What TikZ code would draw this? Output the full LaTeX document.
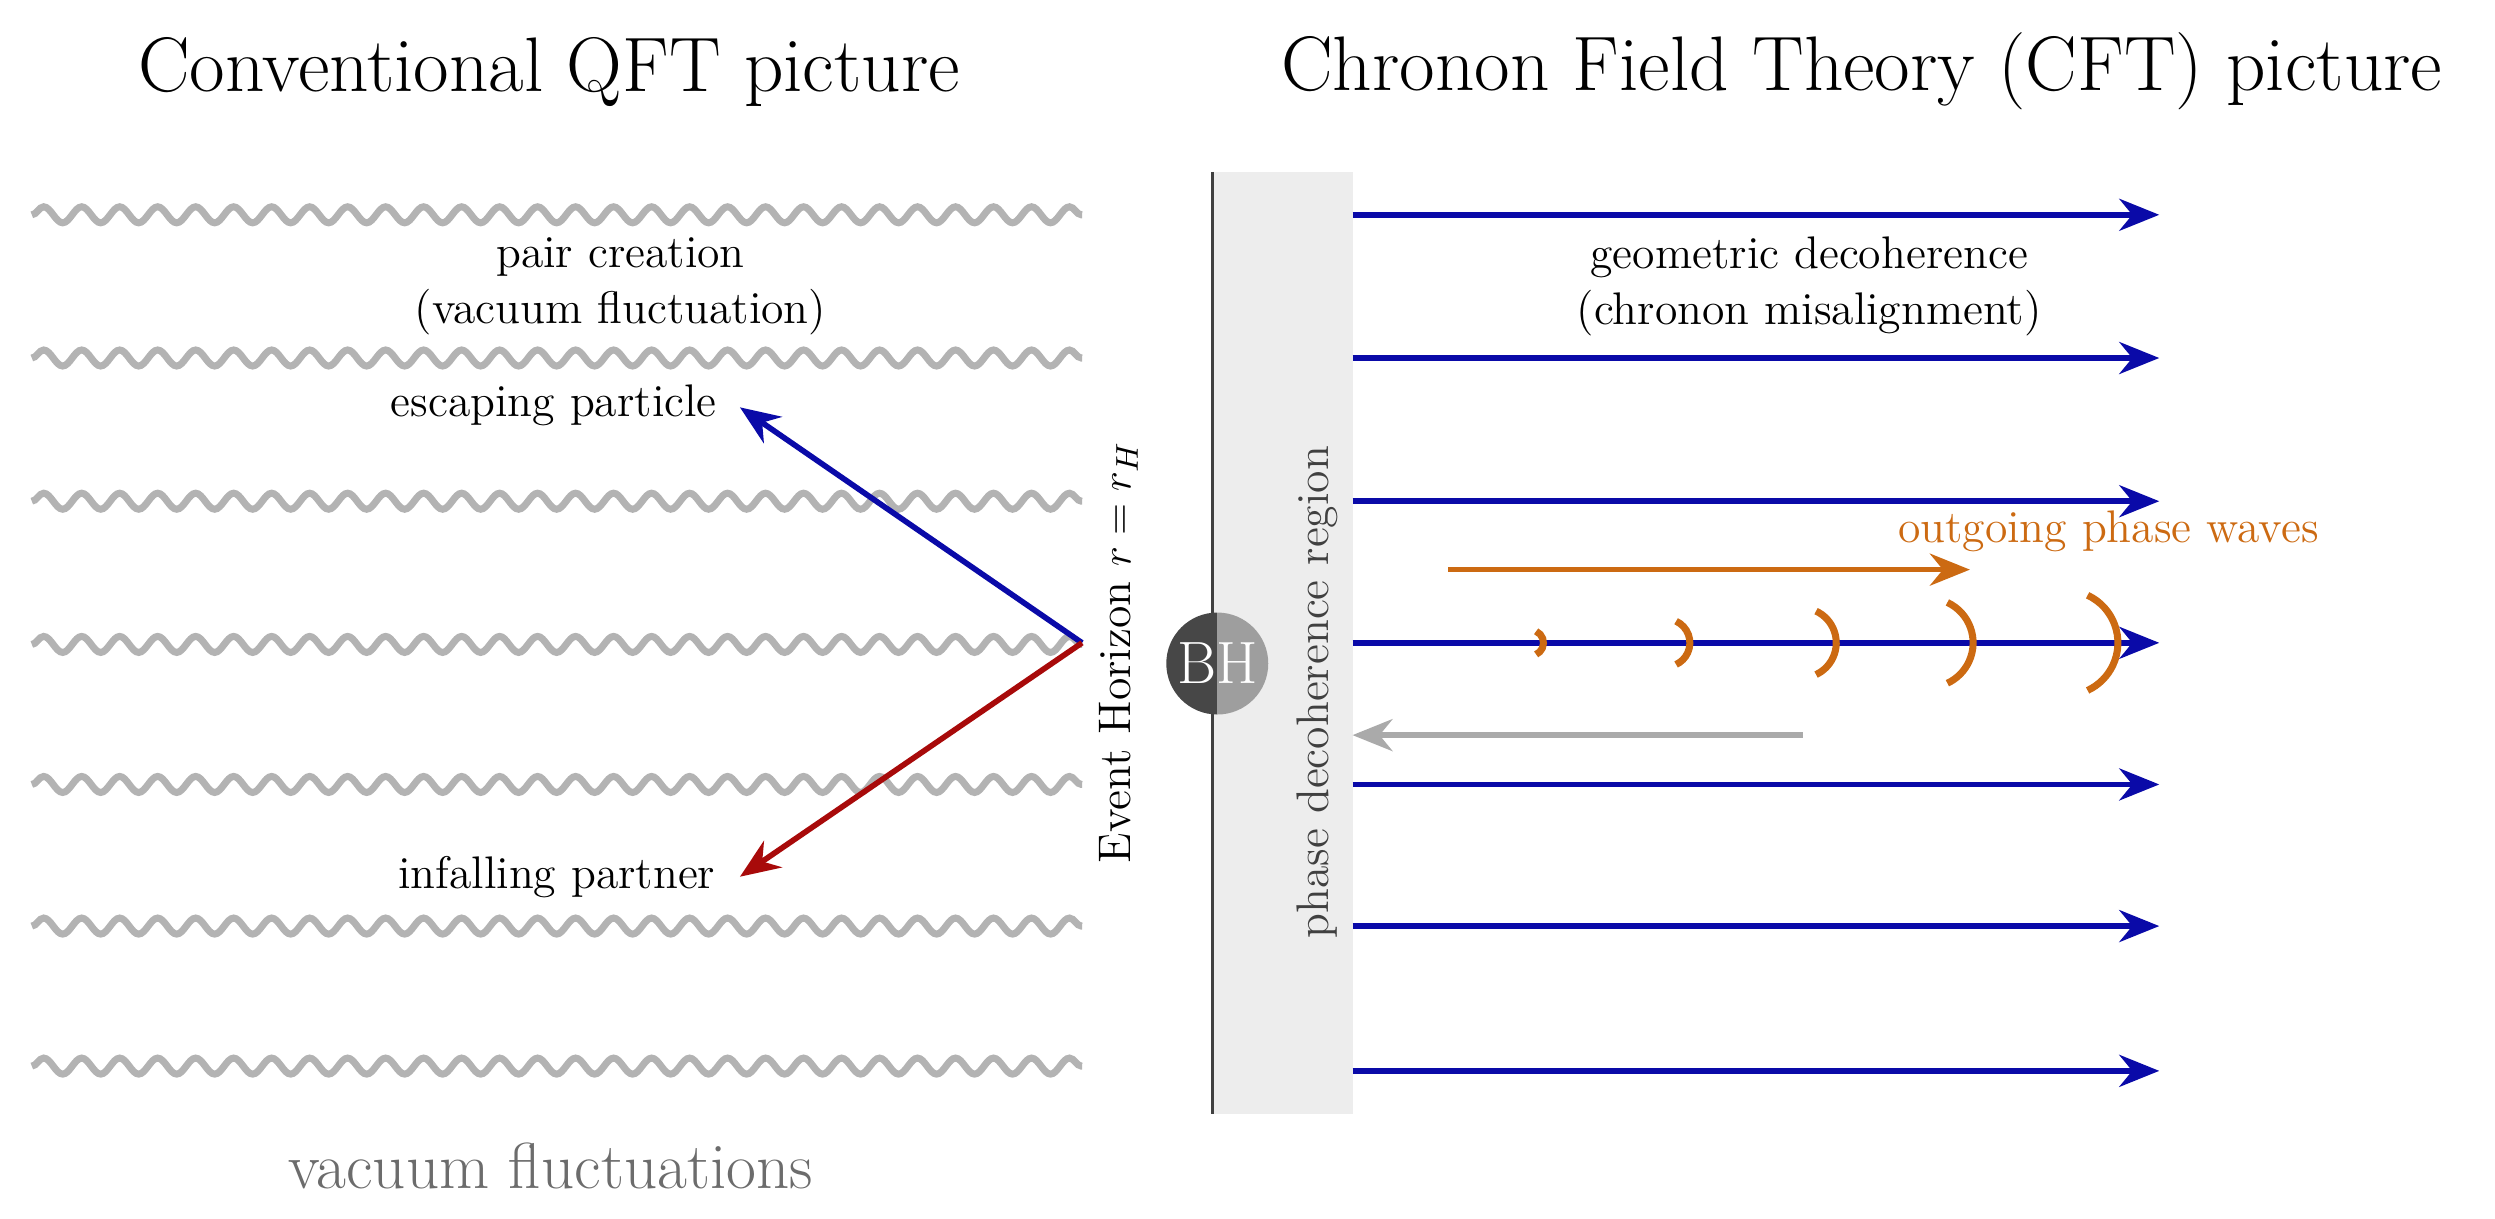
\documentclass[tikz,border=0pt]{standalone}
\usetikzlibrary{decorations.pathmorphing,arrows.meta}
\definecolor{wv}{HTML}{B3B3B3}
\definecolor{bl}{HTML}{0A0AA8}
\definecolor{rd}{HTML}{A80A0A}
\definecolor{og}{HTML}{CC6A12}
\definecolor{ga}{HTML}{AAAAAA}
\tikzset{
 wave/.style={wv,line width=2pt,decorate,decoration={snake,amplitude=0.08cm,segment length=0.38cm}},
 arrtip/.style={-{Stealth[length=0.4cm,width=0.32cm]}},
 bluearr/.style={bl,line width=1.6pt,arrtip},
 lbl/.style={font=\fontsize{13}{16}\selectfont,align=center},
 ttl/.style={font=\fontsize{22}{26}\selectfont}
}
\begin{document}
\begin{tikzpicture}[x=0.015912cm,y=-0.015912cm]
\useasboundingbox (0,0) rectangle (1568,766);
\node[ttl] (t1) at (345,45) {Conventional QFT picture};
\node[ttl] (t2) at (1170,45) {Chronon Field Theory (CFT) picture};
\foreach \yy in {135,225,315,405,493,582,670}
  \draw[wave] (20,\yy) -- (680,\yy);
\node[lbl] (pc) at (390,180) {pair creation\\(vacuum fluctuation)};
\coordinate (o) at (680,404);
\node[lbl] (esc) at (348,255) {escaping particle};
\node[lbl] (inf) at (350,551) {infalling partner};
\coordinate (ee) at (465,256);
\coordinate (ie) at (465,551);
\draw[bluearr] (o) -- (ee);
\draw[rd,line width=1.6pt,arrtip] (o) -- (ie);
\node[font=\fontsize{18.5}{22}\selectfont,gray!85!black] (vf) at (346,733) {vacuum fluctuations};
\node[lbl,rotate=90] (eh) at (703,410) {Event Horizon $r=r_H$};
\fill[black!7] (762,108) rectangle (850,700);
\draw[black!75,line width=1pt] (762,108) -- (762,700);
\node[lbl,rotate=90,black!75] (pd) at (828,435) {phase decoherence region};
\foreach \yy in {135,225,315,404,493,582,673}
  \draw[bluearr] (850,\yy) -- (1357,\yy);
\node[lbl] (gd) at (1137,180) {geometric decoherence\\(chronon misalignment)};
\draw[og,line width=1.6pt,arrtip] (910,358) -- (1238,358);
\node[lbl,og] (ow) at (1325,334) {outgoing phase waves};
\foreach \xx/\r in {962/8,1047/15,1132/22,1212/28,1298/33}
  \draw[og,line width=2pt] (\xx,404) ++(-65:\r) arc(-65:65:\r);
\draw[ga,line width=1.6pt,arrtip] (1133,462) -- (850,462);
\begin{scope}
\clip (765,417) circle[radius=0.51cm];
\fill[black!72] (730,380) rectangle (765,455);
\fill[black!38] (765,380) rectangle (800,455);
\end{scope}
\node[font=\fontsize{17}{20}\selectfont,white] (bh) at (765,417) {BH};
\end{tikzpicture}
\end{document}
